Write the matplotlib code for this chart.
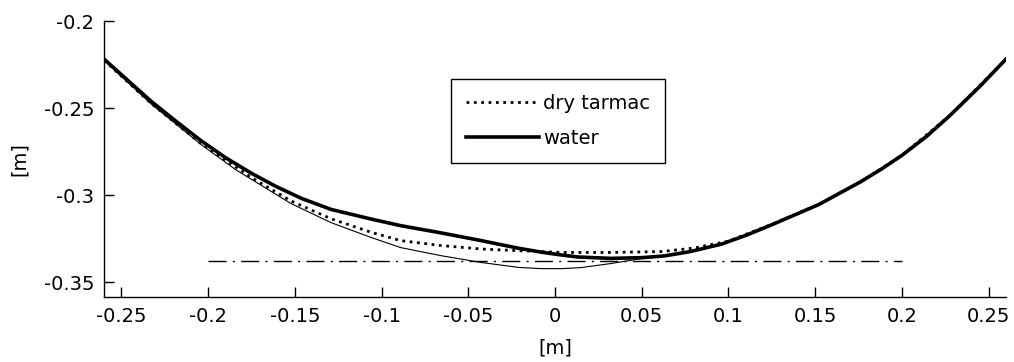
import numpy as np
import matplotlib
matplotlib.use('Agg')
import matplotlib.pyplot as plt

# water (thick solid)
water_x = [-0.26, -0.25, -0.233, -0.218, -0.204, -0.19, -0.175, -0.161, -0.146, -0.129, -0.106, -0.089,
           -0.066, -0.043, -0.021, -0.008, 0.004, 0.013, 0.032, 0.05, 0.063, 0.078, 0.096, 0.11, 0.124,
           0.152, 0.176, 0.188, 0.2, 0.214, 0.228, 0.245, 0.26]
water_y = [-0.2219, -0.2308, -0.246, -0.258, -0.2688, -0.2785, -0.2875, -0.295, -0.302, -0.3083,
           -0.3138, -0.3176, -0.3217, -0.3261, -0.3306, -0.3328, -0.3345, -0.3356, -0.3364, -0.336,
           -0.335, -0.3325, -0.3282, -0.3232, -0.3175, -0.3055, -0.2925, -0.2852, -0.2772, -0.2665,
           -0.254, -0.2375, -0.2219]

# dry tarmac (dotted)
dry_x = [-0.26, -0.233, -0.204, -0.175, -0.152, -0.129, -0.106, -0.089, -0.066, -0.043, -0.021,
         0.004, 0.032, 0.061, 0.08, 0.1, 0.124, 0.152, 0.176, 0.2, 0.228, 0.26]
dry_y = [-0.2225, -0.2472, -0.2705, -0.29, -0.3035, -0.3137, -0.3214, -0.3262, -0.329, -0.331, -0.332,
         -0.333, -0.333, -0.3325, -0.3305, -0.3265, -0.3172, -0.3055, -0.2925, -0.2772, -0.254, -0.2219]

# thin reference curve (no legend entry)
ref_x = [-0.26, -0.233, -0.204, -0.184, -0.152, -0.129, -0.106, -0.089, -0.066, -0.043, -0.021, -0.008,
         0.004, 0.015, 0.032, 0.05, 0.063, 0.078, 0.096, 0.124, 0.152, 0.176, 0.2, 0.228, 0.26]
ref_y = [-0.2225, -0.2475, -0.271, -0.2855, -0.305, -0.3159, -0.3244, -0.3302, -0.3348, -0.3387, -0.3416,
         -0.3423, -0.3423, -0.3417, -0.3394, -0.3365, -0.3353, -0.3326, -0.3282, -0.3176, -0.3055,
         -0.2925, -0.2772, -0.254, -0.2219]

# horizontal dash-dot level
level_x = [-0.2, 0.2]
level_y = -0.3377

xticks = [-0.25, -0.2, -0.15, -0.1, -0.05, 0, 0.05, 0.1, 0.15, 0.2, 0.25]
xticklabels = ['-0.25', '-0.2', '-0.15', '-0.1', '-0.05', '0', '0.05', '0.1', '0.15', '0.2', '0.25']
yticks = [-0.35, -0.3, -0.25, -0.2]
yticklabels = ['-0.35', '-0.3', '-0.25', '-0.2']

plt.rcParams['font.family'] = 'DejaVu Sans'
plt.rcParams['font.size'] = 14

fig = plt.figure(figsize=(10.14, 3.62), dpi=100)
ax = fig.add_axes([104 / 1014, 1 - 297 / 362, 902 / 1014, 276 / 362])

ax.plot(ref_x, ref_y, color='black', linewidth=0.8)
ax.plot(dry_x, dry_y, color='black', linestyle=':', linewidth=2.0, label='dry tarmac')
ax.plot(water_x, water_y, color='black', linewidth=2.6, label='water')
ax.plot(level_x, [level_y, level_y], color='black', linewidth=1.0, dashes=(13, 4.5, 1.5, 4.5))

ax.set_xlim(-0.26, 0.26)
ax.set_ylim(-0.3586, -0.2)
ax.set_xticks(xticks)
ax.set_xticklabels(xticklabels)
ax.set_yticks(yticks)
ax.set_yticklabels(yticklabels)
ax.tick_params(direction='in', length=7, width=1, pad=7)
ax.spines['top'].set_visible(False)
ax.spines['right'].set_visible(False)
ax.spines['left'].set_linewidth(1)
ax.spines['bottom'].set_linewidth(1)

ax.set_xlabel('[m]', labelpad=9)
ax.set_ylabel('[m]', labelpad=11)

leg = ax.legend(loc='upper left', bbox_to_anchor=((451 - 104) / 902, 1 - (79 - 21) / 276),
                borderaxespad=0, fancybox=False, framealpha=1, edgecolor='black',
                handlelength=3.8, handletextpad=0.2, labelspacing=0.85, borderpad=0.75)
leg.get_frame().set_linewidth(1)

fig.savefig('out.png', dpi=100)
